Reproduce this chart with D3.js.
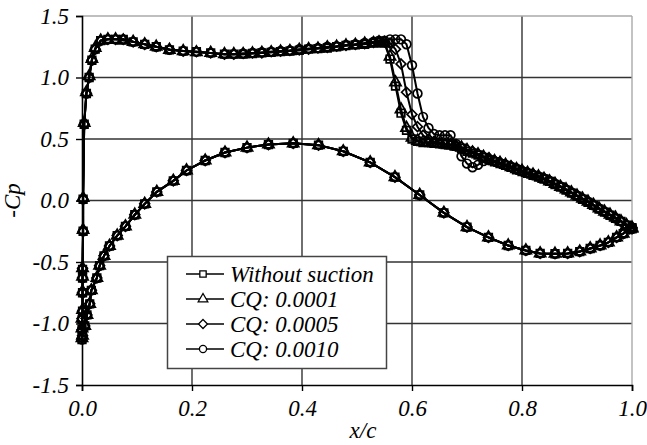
<!DOCTYPE html>
<html>
<head>
<meta charset="utf-8">
<script src="https://cdn.jsdelivr.net/npm/d3@7"></script>
<style>
  html, body { margin: 0; padding: 0; background: #fff; }
  svg { display: block; }
  text { font-family: Times, Tinos, serif; font-style: italic; fill: #000; }
</style>
</head>
<body>
<svg id="chart" width="647" height="445"></svg>
<script>
// Pressure distribution -Cp along the chord, with and without suction

const xTicks = [0.0, 0.2, 0.4, 0.6, 0.8, 1.0];
const yTicks = [-1.5, -1.0, -0.5, 0.0, 0.5, 1.0, 1.5];

const seriesNames = ["Without suction", "CQ: 0.0001", "CQ: 0.0005", "CQ: 0.0010"];

// Upper surface chord stations, leading edge to trailing edge
const xUpper = [
  0.000, 0.000, 0.000, 0.001, 0.001, 0.001, 0.001, 0.002, 0.002, 0.004,
  0.008, 0.013, 0.018, 0.024, 0.034, 0.047, 0.061, 0.075, 0.093, 0.114,
  0.135, 0.159, 0.184, 0.208, 0.234, 0.259,
  0.276, 0.293, 0.310, 0.327, 0.344, 0.361, 0.378, 0.395, 0.412, 0.429,
  0.446, 0.463, 0.480, 0.497, 0.514, 0.530,
  0.54, 0.55, 0.56, 0.57, 0.58, 0.59, 0.60, 0.61, 0.62, 0.63,
  0.64, 0.65, 0.66, 0.67, 0.68, 0.69, 0.70, 0.71, 0.72, 0.73,
  0.74, 0.75, 0.76, 0.77, 0.78, 0.79, 0.80, 0.81, 0.82, 0.83,
  0.84, 0.85, 0.86, 0.87, 0.88, 0.89, 0.90, 0.91, 0.92, 0.93,
  0.94, 0.95, 0.96, 0.97, 0.98, 0.99, 1.00
];

// Upper surface -Cp for each case
const cpUpperNoSuction = [
  -1.13, -1.05, -0.97, -0.90, -0.75, -0.63, -0.56, -0.25, 0.01, 0.62,
  0.87, 1.00, 1.14, 1.23, 1.30, 1.31, 1.31, 1.31, 1.29, 1.27,
  1.25, 1.225, 1.215, 1.21, 1.20, 1.19,
  1.19, 1.19, 1.195, 1.20, 1.205, 1.21, 1.215, 1.22, 1.23, 1.235,
  1.24, 1.25, 1.26, 1.265, 1.27, 1.28,
  1.285, 1.28, 1.15, 0.93, 0.71, 0.57, 0.50, 0.48, 0.47, 0.47,
  0.465, 0.46, 0.455, 0.45, 0.44, 0.425, 0.40, 0.385, 0.37, 0.35,
  0.33, 0.315, 0.30, 0.285, 0.27, 0.25, 0.235, 0.22, 0.205, 0.19,
  0.175, 0.155, 0.13, 0.11, 0.085, 0.06, 0.035, 0.01, -0.015, -0.04,
  -0.07, -0.095, -0.12, -0.145, -0.17, -0.20, -0.23
];

const cpUpperCQ1 = [
  -1.12, -1.04, -0.96, -0.89, -0.74, -0.62, -0.55, -0.24, 0.02, 0.63,
  0.88, 1.01, 1.15, 1.24, 1.30, 1.31, 1.31, 1.30, 1.29, 1.27,
  1.25, 1.225, 1.215, 1.205, 1.20, 1.19,
  1.19, 1.19, 1.195, 1.20, 1.205, 1.21, 1.215, 1.225, 1.23, 1.235,
  1.245, 1.25, 1.26, 1.265, 1.275, 1.28,
  1.285, 1.28, 1.17, 0.96, 0.74, 0.59, 0.51, 0.485, 0.475, 0.47,
  0.465, 0.46, 0.455, 0.45, 0.44, 0.43, 0.41, 0.39, 0.375, 0.355,
  0.335, 0.32, 0.305, 0.29, 0.27, 0.255, 0.24, 0.225, 0.21, 0.195,
  0.175, 0.155, 0.135, 0.11, 0.09, 0.065, 0.04, 0.015, -0.01, -0.035,
  -0.065, -0.09, -0.115, -0.14, -0.17, -0.20, -0.23
];

const cpUpperCQ5 = [
  -1.12, -1.05, -0.96, -0.90, -0.75, -0.63, -0.55, -0.25, 0.01, 0.62,
  0.87, 1.00, 1.14, 1.23, 1.30, 1.31, 1.31, 1.31, 1.29, 1.27,
  1.25, 1.23, 1.215, 1.21, 1.20, 1.19,
  1.19, 1.195, 1.20, 1.20, 1.21, 1.215, 1.22, 1.225, 1.23, 1.24,
  1.245, 1.255, 1.26, 1.27, 1.275, 1.285,
  1.29, 1.29, 1.28, 1.23, 1.11, 0.88, 0.70, 0.60, 0.53, 0.50,
  0.48, 0.47, 0.46, 0.455, 0.445, 0.435, 0.415, 0.40, 0.38, 0.36,
  0.345, 0.325, 0.31, 0.295, 0.28, 0.26, 0.245, 0.23, 0.215, 0.20,
  0.18, 0.16, 0.14, 0.115, 0.09, 0.065, 0.04, 0.015, -0.01, -0.035,
  -0.065, -0.09, -0.115, -0.145, -0.17, -0.20, -0.23
];

const cpUpperCQ10 = [
  -1.13, -1.05, -0.97, -0.90, -0.75, -0.63, -0.56, -0.25, 0.01, 0.62,
  0.87, 1.00, 1.14, 1.23, 1.30, 1.31, 1.31, 1.31, 1.29, 1.27,
  1.25, 1.225, 1.215, 1.21, 1.20, 1.19,
  1.19, 1.195, 1.20, 1.205, 1.21, 1.215, 1.22, 1.23, 1.235, 1.24,
  1.25, 1.255, 1.265, 1.27, 1.28, 1.29,
  1.30, 1.30, 1.31, 1.31, 1.31, 1.27, 1.10, 0.87, 0.68, 0.59,
  0.54, 0.53, 0.53, 0.53, 0.46, 0.36, 0.30, 0.27, 0.29, 0.32,
  0.33, 0.32, 0.305, 0.29, 0.275, 0.26, 0.24, 0.225, 0.21, 0.195,
  0.18, 0.16, 0.135, 0.115, 0.09, 0.065, 0.04, 0.015, -0.01, -0.04,
  -0.065, -0.09, -0.12, -0.145, -0.17, -0.20, -0.23
];

// Lower surface, leading edge to trailing edge (unchanged by suction)
const xLower = [
  0.001, 0.005, 0.009, 0.014, 0.017, 0.027, 0.032, 0.040, 0.050, 0.064,
  0.079, 0.096, 0.114, 0.136, 0.166, 0.190, 0.224, 0.260, 0.300, 0.339,
  0.384, 0.430, 0.475, 0.524, 0.569, 0.614, 0.658, 0.700, 0.739, 0.775,
  0.807, 0.833, 0.860, 0.883, 0.905, 0.924, 0.942, 0.957, 0.972, 0.984,
  0.996, 1.000
];
const cpLower = [
  -1.10, -1.02, -0.93, -0.84, -0.73, -0.63, -0.53, -0.45, -0.37, -0.285,
  -0.21, -0.116, -0.027, 0.07, 0.16, 0.244, 0.325, 0.39, 0.43, 0.455,
  0.465, 0.45, 0.40, 0.31, 0.19, 0.045, -0.10, -0.216, -0.30, -0.366,
  -0.406, -0.43, -0.433, -0.43, -0.415, -0.39, -0.366, -0.34, -0.30, -0.27,
  -0.23, -0.22
];

const upperByCase = [cpUpperNoSuction, cpUpperCQ1, cpUpperCQ5, cpUpperCQ10];

// Each curve runs from the trailing edge along the lower surface to the
// leading edge, then back along the upper surface.
function buildCurve(cpUpper) {
  const pts = [];
  for (let i = xLower.length - 1; i >= 0; i--) pts.push([xLower[i], cpLower[i]]);
  for (let i = 0; i < xUpper.length; i++) pts.push([xUpper[i], cpUpper[i]]);
  return pts;
}

const svg = d3.select("#chart");
const plotLeft = 82, plotRight = 632, plotTop = 16, plotBottom = 385;
const fontStack = "Times, Tinos, serif";

const x = d3.scaleLinear().domain([0, 1]).range([plotLeft, plotRight]);
const y = d3.scaleLinear().domain([-1.5, 1.5]).range([plotBottom, plotTop]);

// Grid
const grid = svg.append("g");
grid.selectAll("line.v").data(xTicks.filter(d => d > 0 && d < 1)).join("line")
  .attr("x1", d => x(d)).attr("x2", d => x(d))
  .attr("y1", plotTop).attr("y2", plotBottom)
  .attr("stroke", "#333").attr("stroke-width", 1.4);
grid.selectAll("line.h").data(yTicks.filter(d => d > -1.5 && d < 1.5)).join("line")
  .attr("x1", plotLeft).attr("x2", plotRight)
  .attr("y1", d => y(d)).attr("y2", d => y(d))
  .attr("stroke", "#333").attr("stroke-width", 1.4);
// light frame on top and right
grid.append("line").attr("x1", plotLeft).attr("x2", plotRight).attr("y1", y(1.5)).attr("y2", y(1.5))
  .attr("stroke", "#aaa").attr("stroke-width", 1.4);
grid.append("line").attr("x1", x(1)).attr("x2", x(1)).attr("y1", plotTop).attr("y2", plotBottom)
  .attr("stroke", "#aaa").attr("stroke-width", 1.4);

// Axes
const fmt = d => d.toFixed(1);
const xAxis = svg.append("g").attr("transform", `translate(0,${plotBottom})`)
  .call(d3.axisBottom(x).tickValues(xTicks).tickFormat(fmt).tickSize(6).tickPadding(4));
const yAxis = svg.append("g").attr("transform", `translate(${plotLeft},0)`)
  .call(d3.axisLeft(y).tickValues(yTicks).tickFormat(fmt).tickSize(6).tickPadding(7));
[xAxis, yAxis].forEach(a => {
  a.select(".domain").attr("stroke", "#000").attr("stroke-width", 1.6);
  a.selectAll(".tick line").attr("stroke", "#000").attr("stroke-width", 1.4);
  a.selectAll(".tick text")
    .attr("font-family", fontStack).attr("font-style", "italic")
    .attr("font-size", 23).attr("fill", "#000");
});
xAxis.selectAll(".tick text").attr("dy", "0.9em");

svg.append("text").attr("x", (plotLeft + plotRight) / 2 + 6).attr("y", 438)
  .attr("text-anchor", "middle").attr("font-size", 23).text("x/c");
svg.append("text").attr("transform", `translate(20,${(plotTop + plotBottom) / 2}) rotate(-90)`)
  .attr("text-anchor", "middle").attr("font-size", 23).text("-Cp");

// Marker shapes
const diamond = {
  draw(ctx, size) {
    const r = Math.sqrt(size / 2);
    ctx.moveTo(0, -r); ctx.lineTo(r, 0); ctx.lineTo(0, r); ctx.lineTo(-r, 0); ctx.closePath();
  }
};
const symbols = [
  d3.symbol().type(d3.symbolSquare).size(58),
  d3.symbol().type(d3.symbolTriangle).size(54),
  d3.symbol().type(diamond).size(48),
  d3.symbol().type(d3.symbolCircle).size(60)
];

const line = d3.line().x(d => x(d[0])).y(d => y(d[1]));
const plot = svg.append("g");

upperByCase.forEach((cp, i) => {
  const pts = buildCurve(cp);
  const g = plot.append("g");
  g.append("path").datum(pts).attr("d", line)
    .attr("fill", "none").attr("stroke", "#000").attr("stroke-width", 2);
  g.selectAll("path.m").data(pts).join("path").attr("class", "m")
    .attr("transform", d => `translate(${x(d[0])},${y(d[1])})`)
    .attr("d", symbols[i]())
    .attr("fill", "none").attr("stroke", "#000").attr("stroke-width", 1.7);
});

// Legend
const lg = svg.append("g");
lg.append("rect").attr("x", 167.5).attr("y", 256.5).attr("width", 219).attr("height", 112)
  .attr("fill", "#fff").attr("stroke", "#444").attr("stroke-width", 1.5);
seriesNames.forEach((name, i) => {
  const cy = 274 + i * 25;
  lg.append("line").attr("x1", 186).attr("x2", 224).attr("y1", cy).attr("y2", cy)
    .attr("stroke", "#000").attr("stroke-width", 1.5);
  lg.append("path").attr("transform", `translate(203,${cy})`).attr("d", symbols[i].size(40)())
    .attr("fill", "#fff").attr("stroke", "#000").attr("stroke-width", 1.3);
  lg.append("text").attr("x", 230).attr("y", cy).attr("dy", "0.35em")
    .attr("font-size", 23).text(name);
});
</script>
</body>
</html>
